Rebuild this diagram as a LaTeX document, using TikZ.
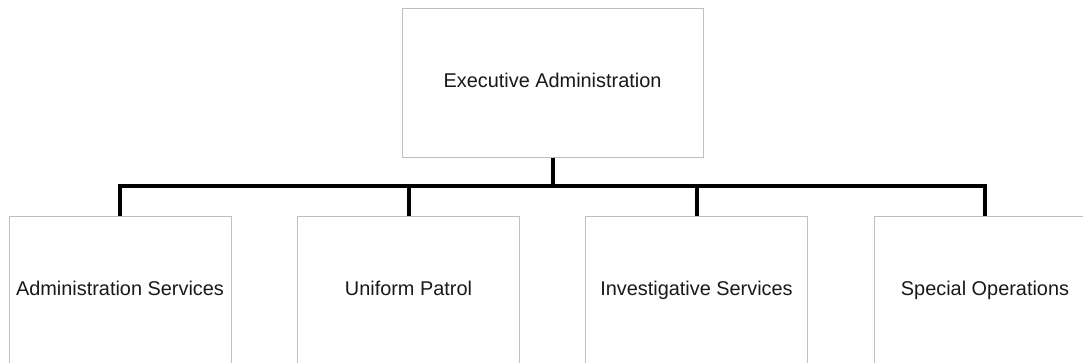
\documentclass[tikz,border=0pt]{standalone}
\usepackage{fontspec}
\setmainfont{Liberation Sans}
\begin{document}
\begin{tikzpicture}[x=1pt,y=-1pt,
  box/.style={draw=black!25, line width=1pt, fill=white, inner sep=0pt,
    font=\fontsize{19.9}{24}\selectfont, text=black!90,
    text height=14.5pt, text depth=4pt},
  topbox/.style={box, minimum width=301pt, minimum height=149pt},
  unitbox/.style={box, minimum width=222pt, minimum height=148pt},
  conn/.style={line width=4pt, black, line join=miter}]
\useasboundingbox (0,0) rectangle (1083,362);
\clip (0,0) rectangle (1083,362);
\node[topbox] (exec) at (552.5,82.5) {Executive Administration};
\node[unitbox] (adm) at (120,290) {Administration Services};
\node[unitbox] (uni) at (408.5,290) {Uniform Patrol};
\node[unitbox] (inv) at (696.5,290) {Investigative Services};
\node[unitbox] (spe) at (985,290) {Special Operations};
\coordinate (bar) at (552.5,186);
\foreach \c in {adm,uni,inv,spe}{
  \draw[conn] (exec.south) -- (exec.south |- bar) -| (\c.north);
}
\end{tikzpicture}
\end{document}
